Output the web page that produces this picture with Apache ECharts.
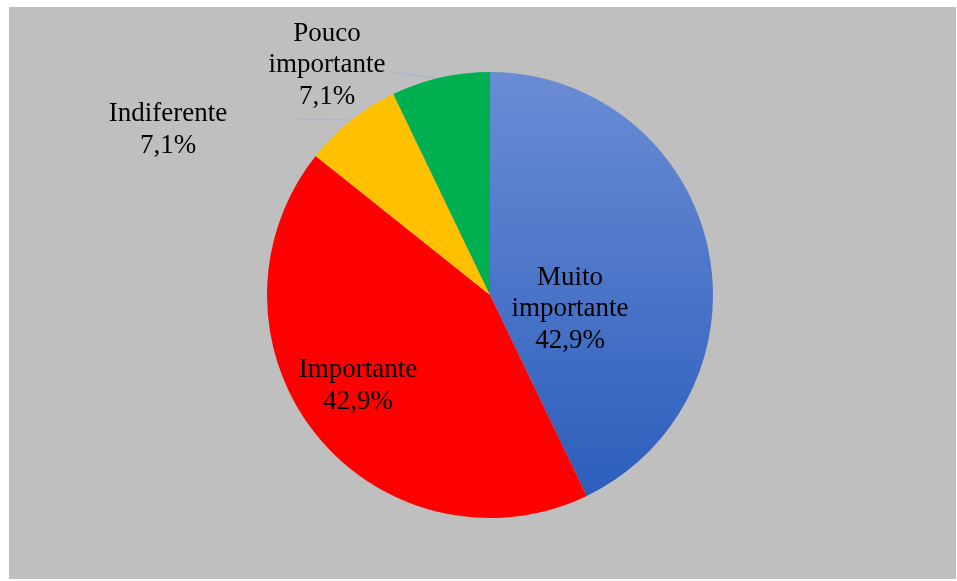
<!DOCTYPE html>
<html>
<head>
<meta charset="utf-8">
<script src="https://cdn.jsdelivr.net/npm/echarts@6/dist/echarts.min.js"></script>
<style>
html,body{margin:0;padding:0;background:#fff;}
#c{width:957px;height:581px;}
</style>
</head>
<body>
<div id="c"></div>
<script>
const categories = ['Muito importante', 'Importante', 'Indiferente', 'Pouco importante'];
const values = [6, 6, 1, 1];
const colors = [null, '#FF0000', '#FFC000', '#00B050'];

const total = values.reduce((a, b) => a + b, 0);
const labelPos = [
  { x: 570, y: 309 },
  { x: 358, y: 386 },
  { x: 168, y: 130, line: [[350, 120], [322, 119.5], [295, 119]] },
  { x: 327, y: 65, line: [[437, 78], [414, 75], [390, 72]] }
];

const chart = echarts.init(document.getElementById('c'));
const blue = new echarts.graphic.LinearGradient(0, 0, 0, 1, [
  { offset: 0, color: '#6A8CD4' },
  { offset: 1, color: '#2C5EBC' }
]);

chart.setOption({
  animation: false,
  graphic: [{
    type: 'rect', left: 9, top: 7, z: -10,
    shape: { width: 947, height: 572 },
    style: { fill: '#BFBFBF' }
  }],
  series: [{
    type: 'pie',
    center: [490, 295],
    radius: 223,
    startAngle: 90,
    clockwise: true,
    data: categories.map((c, i) => ({
      name: c,
      value: values[i],
      itemStyle: { color: i === 0 ? blue : colors[i] },
      labelLine: { show: !!labelPos[i].line }
    })),
    itemStyle: { borderWidth: 0 },
    label: {
      show: true,
      position: 'outside',
      fontFamily: 'Liberation Serif',
      fontSize: 27,
      lineHeight: 31.5,
      color: '#000',
      align: 'center',
      formatter: function (p) {
        const pct = (p.value / total * 100).toFixed(1).replace('.', ',');
        return p.name.replace(' ', '\n') + '\n' + pct + '%';
      }
    },
    labelLine: {
      lineStyle: { color: '#A8B8CE', width: 1.5 }
    },
    labelLayout: function (p) {
      const L = labelPos[p.dataIndex];
      const o = { x: L.x, y: L.y, align: 'center', verticalAlign: 'middle' };
      if (L.line) o.labelLinePoints = L.line;
      return o;
    }
  }]
});
</script>
</body>
</html>
